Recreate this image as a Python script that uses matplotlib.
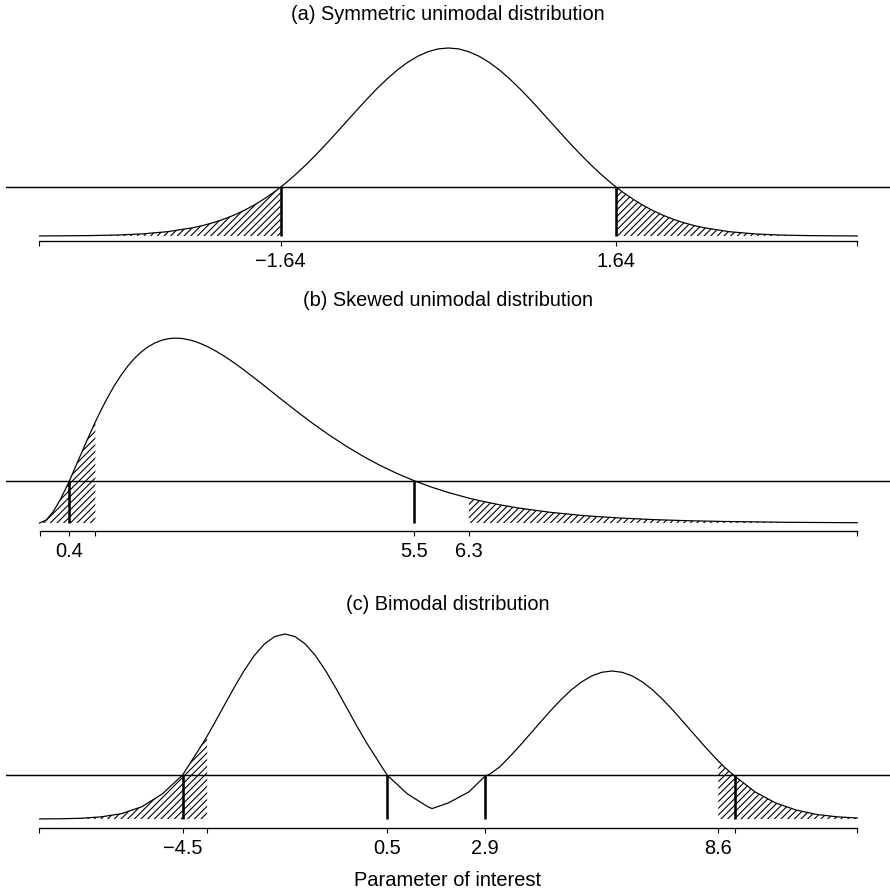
import matplotlib
matplotlib.use('Agg')
import matplotlib.pyplot as plt
import numpy as np

plt.rcParams['font.family'] = ['Liberation Sans', 'DejaVu Sans']
plt.rcParams['hatch.linewidth'] = 1.0

# ------------------------------------------------------------------------------
# (a) symmetric unimodal: curve (density units)
xa = [-4., -3.75, -3.5, -3.25, -3., -2.75, -2.5, -2.4, -2.3, -2.2, -2.1,
      -2., -1.9, -1.8, -1.7, -1.64, -1.6, -1.5, -1.4, -1.3, -1.2, -1.1,
      -1., -0.9, -0.8, -0.7, -0.6, -0.5, -0.4, -0.3, -0.2, -0.1, 0.,
      0.1, 0.2, 0.3, 0.4, 0.5, 0.6, 0.7, 0.8, 0.9, 1., 1.1, 1.2, 1.3,
      1.4, 1.5, 1.6, 1.64, 1.7, 1.8, 1.9, 2., 2.1, 2.2, 2.3, 2.4, 2.5,
      2.75, 3., 3.25, 3.5, 3.75, 4.]
ya = [0.0001, 0.0004, 0.0009, 0.0020, 0.0044, 0.0091, 0.0175, 0.0224,
      0.0283, 0.0355, 0.0440, 0.0540, 0.0656, 0.0790, 0.0940, 0.1040,
      0.1109, 0.1295, 0.1497, 0.1714, 0.1942, 0.2179, 0.2420, 0.2661,
      0.2897, 0.3123, 0.3332, 0.3521, 0.3683, 0.3814, 0.3910, 0.3970,
      0.3989, 0.3970, 0.3910, 0.3814, 0.3683, 0.3521, 0.3332, 0.3123,
      0.2897, 0.2661, 0.2420, 0.2179, 0.1942, 0.1714, 0.1497, 0.1295,
      0.1109, 0.1040, 0.0940, 0.0790, 0.0656, 0.0540, 0.0440, 0.0355,
      0.0283, 0.0224, 0.0175, 0.0091, 0.0044, 0.0020, 0.0009, 0.0004,
      0.0001]
level_a = 0.1040
vlines_a = [-1.64, 1.64]
hatch_a = [(-4., -1.64), (1.64, 4.)]
ticks_a = [-4., -1.64, 1.64, 4.]
labels_a = ['', '\u22121.64', '1.64', '']

# (b) skewed unimodal
xb = [0., 0.1, 0.2, 0.3, 0.4, 0.44, 0.5, 0.6, 0.7, 0.8, 0.82, 0.9, 1.,
      1.1, 1.2, 1.3, 1.4, 1.5, 1.6, 1.7, 1.8, 1.9, 2., 2.1, 2.2, 2.3, 2.4,
      2.5, 2.6, 2.7, 2.8, 2.9, 3., 3.2, 3.4, 3.6, 3.8, 4., 4.25, 4.5,
      4.75, 5., 5.25, 5.5, 5.75, 6., 6.3, 6.5, 6.75, 7., 7.5, 8., 8.5, 9.,
      9.5, 10., 11., 12.]
yb = [0., 0.0045, 0.0164, 0.0333, 0.0536, 0.0618, 0.0758, 0.0988, 0.1217,
      0.1438, 0.1481, 0.1647, 0.1839, 0.2014, 0.2169, 0.2303, 0.2417,
      0.2510, 0.2584, 0.2640, 0.2678, 0.2700, 0.2707, 0.2701, 0.2681,
      0.2653, 0.2612, 0.2565, 0.2510, 0.2450, 0.2384, 0.2314, 0.2240,
      0.2087, 0.1929, 0.1770, 0.1615, 0.1465, 0.1288, 0.1125, 0.0976,
      0.0842, 0.0723, 0.0618, 0.0526, 0.0446, 0.0364, 0.0318, 0.0267,
      0.0223, 0.0156, 0.0107, 0.0074, 0.0050, 0.0034, 0.0023, 0.0010,
      0.0004]
level_b = 0.0618
vlines_b = [0.44, 5.5]
hatch_b = [(0., 0.82), (6.3, 12.)]
ticks_b = [0., 0.44, 0.82, 5.5, 6.3, 12.]
labels_b = ['', '0.4', '', '5.5', '6.3', '']

# (c) bimodal (relative height)
xc = [-8., -7.5, -7., -6.5, -6., -5.5, -5., -4.75, -4.5, -4.25, -4., -3.9,
      -3.75, -3.5, -3.25, -3., -2.75, -2.5, -2.25, -2., -1.75, -1.5, -1.25,
      -1., -0.75, -0.5, -0.25, 0., 0.25, 0.5, 0.75, 1., 1.5, 1.6, 2., 2.5,
      2.9, 3., 3.25, 3.5, 3.75, 4., 4.25, 4.5, 4.75, 5., 5.25, 5.5, 5.75,
      6., 6.25, 6.5, 6.75, 7., 7.25, 7.5, 7.75, 8., 8.25, 8.5, 8.6, 8.75,
      9., 9.5, 10., 10.5, 11., 11.5, 12.]
yc = [0.1, 0.2, 0.7, 2.1, 5.3, 12.2, 25.0, 34.5, 44.0, 60.1, 76.1, 82.9,
      93.7, 112.2, 130.7, 148.1, 163.3, 175.0, 182.4, 185.0, 182.4, 175.0,
      163.3, 148.1, 130.7, 112.2, 93.7, 76.1, 60.1, 44.0, 34.5, 25.0,
      12.2, 10.4, 16.1, 27.1, 43.0, 44.6, 51.9, 62.3, 73.4, 85.1, 96.8,
      108.4, 119.2, 128.9, 136.9, 143.0, 146.7, 148.0, 146.7, 143.0,
      136.9, 128.9, 119.2, 108.4, 96.8, 85.1, 73.4, 62.3, 58.0, 51.9,
      43.0, 27.1, 16.1, 9.0, 4.6, 2.2, 1.0]
level_c = 44.0
vlines_c = [-4.5, 0.5, 2.9, 9.0]
hatch_c = [(-8., -3.9), (8.6, 12.)]
ticks_c = [-8., -4.5, -3.9, 0.5, 2.9, 8.6, 9.0, 12.]
labels_c = ['', '\u22124.5', '', '0.5', '2.9', '8.6', '', '']

titles = ['(a) Symmetric unimodal distribution',
          '(b) Skewed unimodal distribution',
          '(c) Bimodal distribution']
xlabel = 'Parameter of interest'

# ------------------------------------------------------------------------------
W, H = 890., 893.
dpi = 80
fig = plt.figure(figsize=(W / dpi, H / dpi), dpi=dpi)

# pixel layout: (axis line y, top y, baseline y, px per unit y, data range)
panels = [
    (xa, ya, level_a, vlines_a, hatch_a, ticks_a, labels_a, 241, 30, 236, 471.3, (-4., 4.)),
    (xb, yb, level_b, vlines_b, hatch_b, ticks_b, labels_b, 531, 320, 523, 683., (0., 12.)),
    (xc, yc, level_c, vlines_c, hatch_c, ticks_c, labels_c, 828, 620, 819, 1., (-8., 12.)),
]
title_y = [15, 300, 605]
px0, px1 = 39.5, 857.3   # pixel ends of the data range
left_px = 6.

for i, (x, y, level, vl, hatches, ticks, labels, ybot, ytop, ybase, k, rng) in enumerate(panels):
    x = np.array(x)
    y = np.array(y)
    ax = fig.add_axes([left_px / W, 1 - ybot / H, (W - left_px) / W, (ybot - ytop) / H])
    scale = (px1 - px0) / (rng[1] - rng[0])
    ax.set_xlim(rng[0] - (px0 - left_px) / scale, rng[1] + (W - px1) / scale)
    ax.set_ylim(-(ybot - ybase) / k, (ybase - ytop) / k)

    ax.plot(x, y, color='black', lw=1.1)
    ax.axhline(level, color='black', lw=1.3)
    for lo, hi in hatches:
        m = (x >= lo) & (x <= hi)
        ax.fill_between(x[m], 0, y[m], facecolor='none', edgecolor='black',
                        hatch='////', linewidth=0)
    for v in vl:
        ax.plot([v, v], [0, level], color='black', lw=2.3, solid_capstyle='butt')

    for s in ['left', 'right', 'top']:
        ax.spines[s].set_visible(False)
    ax.spines['bottom'].set_bounds(rng[0], rng[1])
    ax.spines['bottom'].set_linewidth(1.2)
    ax.set_yticks([])
    ax.set_xticks(ticks)
    ax.set_xticklabels(labels, fontsize=18)
    ax.tick_params(axis='x', direction='out', length=4.5, width=1.0, pad=5)
    ax.patch.set_visible(False)

    fig.text(448 / W, 1 - title_y[i] / H, titles[i], ha='center', va='center',
             fontsize=18)

fig.text(448 / W, 1 - 880 / H, xlabel, ha='center', va='center', fontsize=18)

fig.savefig('out.png', dpi=dpi)
